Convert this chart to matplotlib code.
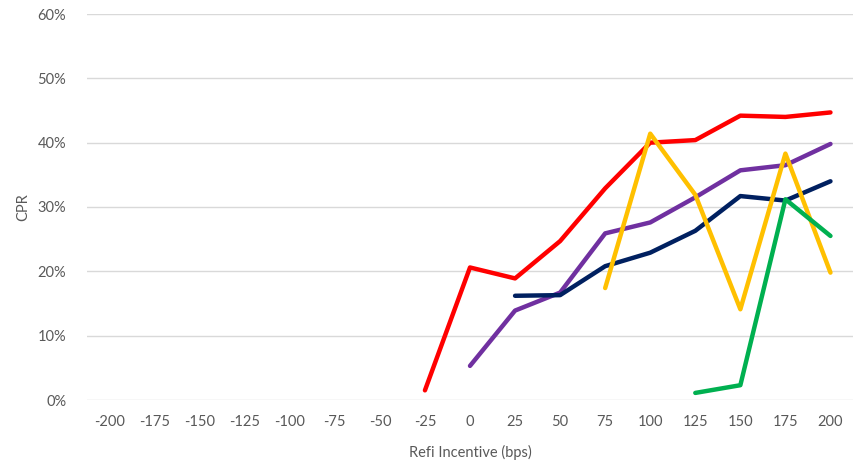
import numpy as np
import matplotlib
matplotlib.use("Agg")
import matplotlib.pyplot as plt
from matplotlib.ticker import FuncFormatter

plt.rcParams['font.family'] = ['Lato', 'DejaVu Sans']

incentive = [-200, -175, -150, -125, -100, -75, -50, -25, 0, 25, 50, 75, 100, 125, 150, 175, 200]
nan = np.nan

red = [nan, nan, nan, nan, nan, nan, nan, 1.5, 20.6, 18.9, 24.7, 32.9, 40.0, 40.4, 44.2, 44.0, 44.7]
purple = [nan, nan, nan, nan, nan, nan, nan, nan, 5.3, 13.9, 16.7, 25.9, 27.6, 31.5, 35.7, 36.5, 39.8]
navy = [nan, nan, nan, nan, nan, nan, nan, nan, nan, 16.2, 16.3, 20.8, 22.9, 26.3, 31.7, 31.0, 34.0]
yellow = [nan, nan, nan, nan, nan, nan, nan, nan, nan, nan, nan, 17.4, 41.4, 31.9, 14.1, 38.3, 19.8]
green = [nan, nan, nan, nan, nan, nan, nan, nan, nan, nan, nan, nan, nan, 1.1, 2.3, 31.2, 25.5]

series = [
    (green, '#00B050'),
    (yellow, '#FFC000'),
    (navy, '#002060'),
    (purple, '#7030A0'),
    (red, '#FF0000'),
]

fig = plt.figure(figsize=(8.63, 4.62), dpi=100)
ax = fig.add_axes([87 / 863, 1 - 400 / 462, (853 - 87) / 863, (400 - 14) / 462])

pos = np.arange(len(incentive))
for vals, col in reversed(series):
    ax.plot(pos, np.array(vals) / 100, color=col, lw=3.2, solid_capstyle='round',
            solid_joinstyle='round', zorder=3)

ax.set_xlim(-0.5, len(incentive) - 0.5)
ax.set_ylim(0, 0.6)
ax.set_yticks(np.arange(0, 0.61, 0.1))
ax.yaxis.set_major_formatter(FuncFormatter(lambda v, _: f"{v * 100:.0f}%"))
ax.set_xticks(pos)
ax.set_xticklabels([str(v) for v in incentive])

ax.grid(axis='y', color='#D9D9D9', lw=1.0, zorder=0)
for s in ax.spines.values():
    s.set_visible(False)
ax.tick_params(axis='both', length=0, labelsize=10.5, labelcolor='#595959')
ax.tick_params(axis='x', pad=11)
ax.tick_params(axis='y', pad=15)

ax.set_xlabel('Refi Incentive (bps)', fontsize=10.5, color='#595959', labelpad=11)
ax.set_ylabel('CPR', fontsize=10.5, color='#595959', labelpad=5)

fig.savefig('out.png', dpi=100, facecolor='white')
